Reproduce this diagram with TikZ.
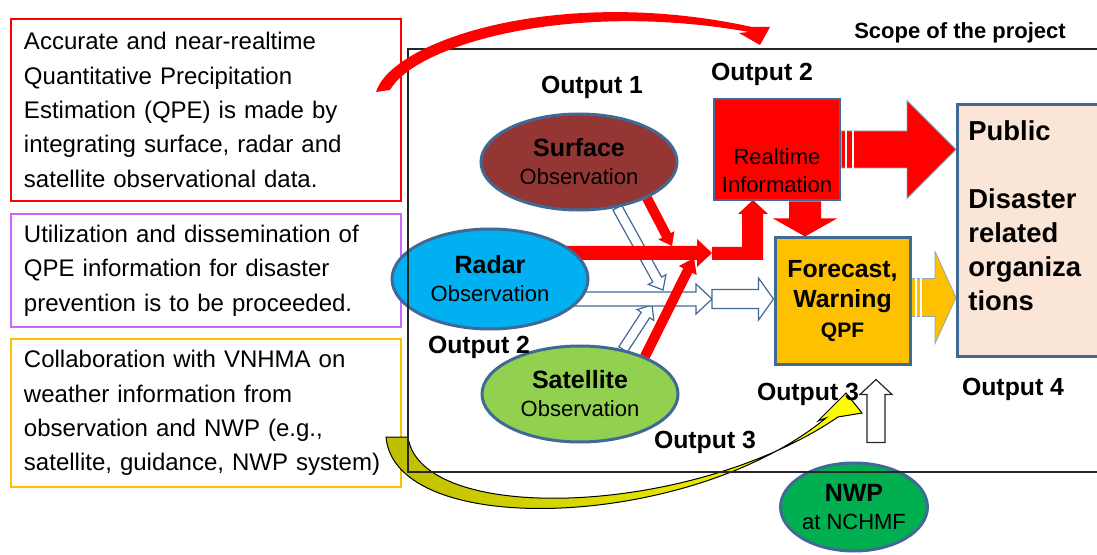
\documentclass[tikz,border=0pt]{standalone}
\usepackage{fontspec}
\setmainfont{Liberation Sans}
\usepackage{tikz}
\usepackage{xcolor}
\usetikzlibrary{shapes.geometric, arrows.meta, positioning, calc, backgrounds}
\definecolor{cEdge}{RGB}{65,105,150}
\definecolor{cRed}{RGB}{255,0,0}
\definecolor{cBrown}{RGB}{148,54,52}
\definecolor{cRadar}{RGB}{0,176,240}
\definecolor{cSat}{RGB}{146,208,80}
\definecolor{cNwp}{RGB}{0,176,80}
\definecolor{cAmber}{RGB}{255,192,0}
\definecolor{cPeach}{RGB}{251,229,214}
\definecolor{cViolet}{RGB}{204,102,255}
\definecolor{cOlive}{RGB}{190,190,0}
\definecolor{cLemon}{RGB}{255,255,0}
\tikzset{
	descbox/.style={rectangle, draw, line width=1pt, anchor=north west, text width=182pt, inner xsep=6.5pt, minimum width=195pt, align=left, font=\fontsize{12}{17.2}\selectfont},
	obsnode/.style={ellipse, draw=cEdge, line width=1.5pt, minimum width=98pt, minimum height=48pt, align=center, inner sep=0pt, font=\fontsize{11}{14}\selectfont},
	infobox/.style={rectangle, draw=cEdge, line width=1.4pt, inner sep=0pt},
	outlabel/.style={font=\bfseries\fontsize{12.4}{14}\selectfont, inner sep=0pt},
	redblock/.style={fill=cRed},
	hollowblock/.style={fill=white, draw=cEdge, line width=0.6pt},
	% striped gap in the wide arrows
	gapline/.style={white, line width=1pt},
}
% block arrow: style, from, to, half shaft, half head, head length
\newcommand{\blockarrow}[6]{%
	\coordinate (ba-s) at (#2);
	\coordinate (ba-e) at (#3);
	\coordinate (ba-h) at ($(ba-e)!#6!(ba-s)$);
	\path[#1] ($(ba-s)!#4!90:(ba-e)$) -- ($(ba-h)!#4!-90:(ba-s)$) -- ($(ba-h)!#5!-90:(ba-s)$) -- (ba-e)
	-- ($(ba-h)!#5!90:(ba-s)$) -- ($(ba-h)!#4!90:(ba-s)$) -- ($(ba-s)!#4!-90:(ba-e)$) -- cycle;
}
\newcommand{\obstitle}[1]{{\bfseries\fontsize{12.5}{14}\selectfont #1}}

\begin{document}
\begin{tikzpicture}[x=0.5pt, y=-0.5pt]
	\useasboundingbox (0,0) rectangle (1097,555);

	% project goals
	\node[descbox, draw=cRed, minimum height=91pt] (qpe) at (10,18) {Accurate and near-realtime\\Quantitative Precipitation\\Estimation (QPE) is made by\\integrating surface, radar and\\satellite observational data.};
	\node[descbox, draw=cViolet, minimum height=56.5pt] (dissem) at (10,213) {Utilization and dissemination of\\QPE information for disaster\\prevention is to be proceeded.};
	\node[descbox, draw=cAmber, minimum height=74pt] (collab) at (10,338) {Collaboration with VNHMA on\\weather information from\\observation and NWP (e.g.,\\satellite, guidance, NWP system)};

	% yellow curved arrow to the forecast
	\coordinate (yelTail) at (386,437);
	\coordinate (yelTip) at (846,393);
	\path[draw=black, line width=0.5pt, left color=cOlive, right color=cLemon] (yelTail) .. controls (395,540) and (690,530) .. (826,418) -- (818,421) -- (yelTip) -- (862,413) -- (838,417) .. controls (690,518) and (420,525) .. (408,437) -- cycle;

	% observations
	\node[obsnode, fill=cBrown] (surf) at (579,162) {\obstitle{Surface}\\Observation};
	\node[obsnode, fill=cRadar, minimum height=50pt] (radar) at (490,279) {\obstitle{Radar}\\Observation};
	\node[obsnode, fill=cSat] (sat) at (580,394) {\obstitle{Satellite}\\Observation};
	\node[obsnode, fill=cNwp, minimum width=61pt, minimum height=44pt] (nwp) at (854,507) {\obstitle{NWP}\\at NCHMF};

	% products and users
	\node[infobox, fill=cRed, minimum width=63pt, minimum height=50.5pt] (rtinfo) at (777,149.5) {};
	\node[font=\fontsize{11}{14}\selectfont, align=center, inner sep=0pt] (rtinfo-txt) at ($(rtinfo.center)+(0,21)$) {Realtime\\Information};
	\node[infobox, fill=cAmber, line width=1.5pt, minimum width=67.5pt, minimum height=63.5pt, align=center, font=\bfseries\fontsize{12.4}{15}\selectfont] (fcst) at (842.5,301.5) {Forecast,\\Warning\\{\fontsize{10.5}{15}\selectfont QPF}};
	\node[infobox, fill=cPeach, line width=1.5pt, minimum width=75pt, minimum height=126pt, anchor=north west] (pub) at (956,103) {};
	\node[anchor=north west, inner sep=0pt, align=left, font=\bfseries\fontsize{13.7}{17}\selectfont] (pub-txt) at ([shift={(12,17)}]pub.north west) {Public\\[17pt]Disaster\\related\\organiza\\tions};

	% outputs
	\node[outlabel] (out1) at (592,87) {Output 1};
	\node[outlabel] (out2a) at (762,74) {Output 2};
	\node[outlabel] (out2b) at (479,347) {Output 2};
	\node[outlabel] (out3a) at (705,442) {Output 3};
	\node[outlabel] (out3b) at (808,394) {Output 3};
	\node[outlabel] (out4) at (1013,389) {Output 4};
	\node[font=\bfseries\fontsize{11}{13}\selectfont, inner sep=0pt] (scopelbl) at (960,33) {Scope of the project};

	% block arrows between the boxes
	\begin{scope}[on background layer]
		\coordinate (jn) at (712,253);
		\coordinate (hj) at (712,299);
		\blockarrow{hollowblock}{surf.-50}{$(hj)+(-49,-9)$}{2.5pt}{5pt}{6pt}
		\blockarrow{hollowblock}{sat.46}{$(hj)+(-60,6)$}{2.5pt}{5pt}{6pt}
		\blockarrow{hollowblock}{radar.center |- hj}{hj}{3.5pt}{7.5pt}{8pt}
		\blockarrow{hollowblock}{hj}{fcst.west |- hj}{4.75pt}{10.5pt}{7.5pt}
		\blockarrow{redblock}{radar.center |- jn}{jn}{3.5pt}{7pt}{7.5pt}
		\blockarrow{redblock}{surf.-28}{$(jn)+(-40,-7)$}{2.5pt}{4.5pt}{6pt}
		\blockarrow{redblock}{sat.30}{$(jn)+(-18,5)$}{2.5pt}{5pt}{7pt}
		\fill[cRed] (jn) ++(0,-6) -- ++(30,0) -- ++(0,-33) -- ++(-4,0) -- ++(15,-14) -- ++(15,14) -- ++(-5,0) -- ++(0,46) -- ++(-51,0) -- cycle;
		\coordinate (dn) at ([xshift=14pt]rtinfo.south);
		\blockarrow{redblock}{dn}{dn |- fcst.north}{8pt}{16pt}{9pt}
		\blockarrow{redblock, draw=cEdge!60, line width=0.4pt}{rtinfo.east}{rtinfo.east -| pub.west}{9.25pt}{24.5pt}{24.5pt}
		\draw[gapline] ([xshift=2.5pt]rtinfo.east) ++(0,-22) -- ++(0,44);
		\draw[gapline] ([xshift=6pt]rtinfo.east) ++(0,-22) -- ++(0,44);
		\coordinate (fe) at ([yshift=2pt]fcst.east);
		\blockarrow{fill=cAmber, draw=cEdge!60, line width=0.4pt}{fe}{fe -| pub.west}{9.5pt}{23pt}{10.5pt}
		\draw[gapline] ([xshift=2pt]fe) ++(0,-21) -- ++(0,42);
		\draw[gapline] ([xshift=4.5pt]fe) ++(0,-21) -- ++(0,42);
		\blockarrow{hollowblock, draw=black!85}{$(nwp.north)+(22,-19)$}{$(nwp.north)+(22,-82)$}{4.5pt}{8pt}{7.5pt}
	\end{scope}

	% scope frame
	\draw[line width=0.6pt, black!85] (1110,49) -| (408,472) -- (1110,472);

	% red curved arrow from the QPE goal
	\coordinate (redTail) at ($(qpe.north east)+(-26,74)$);
	\coordinate (redTip) at (760,45);
	\fill[cRed] (redTail) .. controls (392,40) and (560,-15) .. (752,27) -- (770,27) -- (redTip) -- (739,33) -- (749,32) .. controls (570,0) and (415,45) .. (390,90) -- cycle;
\end{tikzpicture}
\end{document}
